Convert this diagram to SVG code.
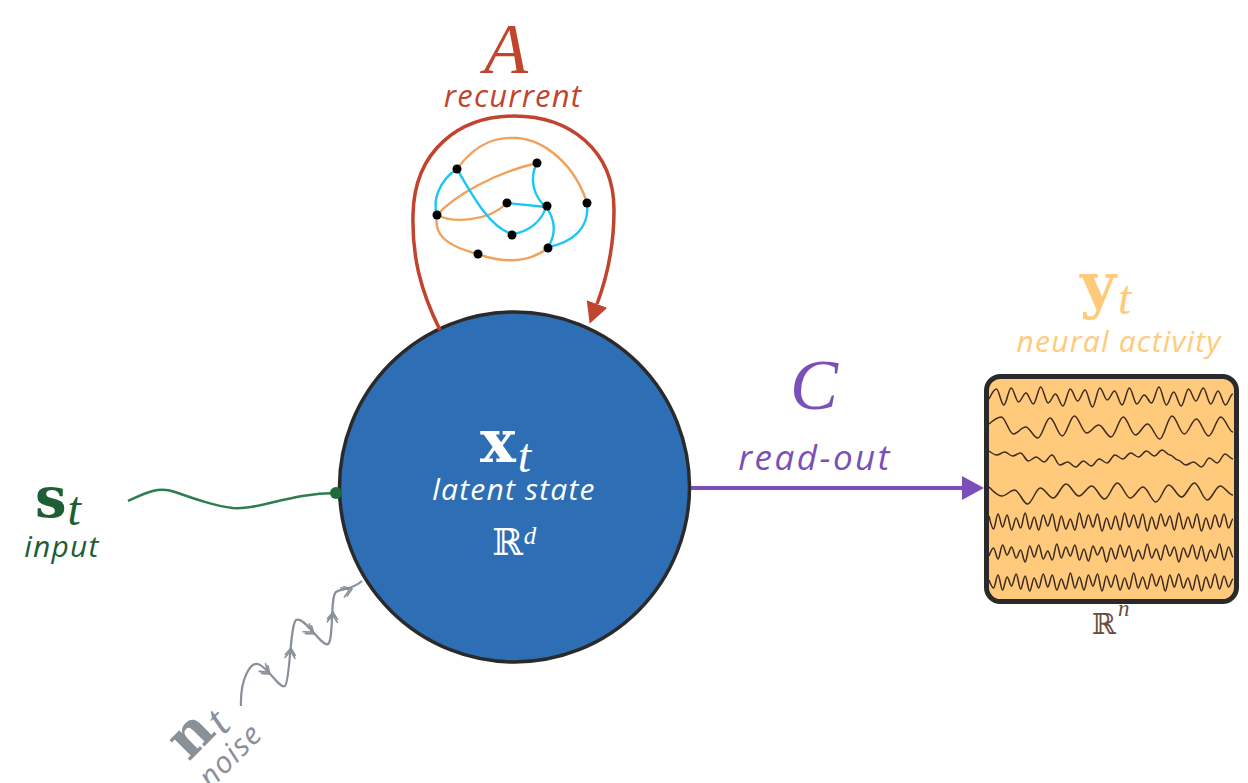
<svg xmlns="http://www.w3.org/2000/svg" width="1248" height="783" viewBox="0 0 1248 783">
  <style>
    .sans { font-family: "Open Sans", Lato, sans-serif; font-style: italic; letter-spacing: 1.2px; }
    .math { font-family: "Liberation Serif", "DejaVu Serif", serif; }
    .vec { font-family: "DejaVu Serif", "Liberation Serif", serif; font-weight: bold; }
    .bb { font-family: "DejaVu Serif", "Liberation Serif", serif; }
    .it { font-style: italic; }
    .trace { fill: none; stroke: #3d2a1e; stroke-width: 1.5; stroke-linejoin: round; vector-effect: non-scaling-stroke; }
    .net-o { fill: none; stroke: #f0a25c; stroke-width: 2.4; }
    .net-b { fill: none; stroke: #1cc6f4; stroke-width: 2.4; }
    .chev { fill: none; stroke: #8a9099; stroke-width: 1.6; stroke-linecap: round; }
  </style>
  <defs>
    <marker id="head-red" markerUnits="userSpaceOnUse" markerWidth="24" markerHeight="26" refX="0" refY="11" orient="auto" viewBox="0 0 24 22">
      <path d="M0 0 L21 11 L0 22 Z" fill="#c1442f"/>
    </marker>
    <marker id="head-purple" markerUnits="userSpaceOnUse" markerWidth="24" markerHeight="26" refX="0" refY="12" orient="auto" viewBox="0 0 24 24">
      <path d="M0 0 L22 12 L0 24 Z" fill="#7a4fb8"/>
    </marker>
  </defs>

  <!-- latent state node -->
  <g id="latent">
    <circle cx="514.5" cy="487" r="175" fill="#2e6eb5" stroke="#2a2a2a" stroke-width="3.5"/>
    <text x="480" y="462" fill="#ffffff"><tspan class="vec" font-size="60">x</tspan><tspan class="math it" font-size="48" dx="2" dy="10">t</tspan></text>
    <text x="514" y="500" class="sans" font-size="30" fill="#ffffff" text-anchor="middle">latent state</text>
    <text x="492" y="555" fill="#ffffff"><tspan class="bb" font-size="37">ℝ</tspan><tspan class="math it" font-size="25" dx="1" dy="-11">d</tspan></text>
  </g>

  <!-- connectors -->
  <g id="connectors">
    <path id="loop" d="M440 330 C420 290 412 255 413 215 C414 150 460 116 514 116 C570 116 614 150 614 210 C614 250 606 280 597 304" fill="none" stroke="#c1442f" stroke-width="3.5" marker-end="url(#head-red)"/>
    <path id="readout" d="M691 488 L962 488" fill="none" stroke="#7a4fb8" stroke-width="4" marker-end="url(#head-purple)"/>
    <path id="input" d="M128 501 C145 493 158 486 175 492 C195 499 215 506 233 508 C260 510 290 493 336 493" fill="none" stroke="#2e7d4f" stroke-width="2.5"/>
    <circle cx="336" cy="493" r="6" fill="#1e6b3a"/>
    <path id="noise" d="M241 706 C240 680 250 662 258 664 C268 667 280 690 285 686 C290 682 290 625 296 620 C304 615 322 648 328 644 C334 640 330 596 336 592 C342 588 352 590 362 581" fill="none" stroke="#8a9099" stroke-width="2.2"/>
    <g class="chev">
      <path transform="translate(270,674) rotate(40)" d="M-7 -5 L0 0 L-7 5 M-10 -5 L-3 0 L-10 5"/>
      <path transform="translate(291,648) rotate(-84)" d="M-7 -5 L0 0 L-7 5 M-10 -5 L-3 0 L-10 5"/>
      <path transform="translate(314,634) rotate(38)" d="M-7 -5 L0 0 L-7 5 M-10 -5 L-3 0 L-10 5"/>
      <path transform="translate(333,612) rotate(-86)" d="M-7 -5 L0 0 L-7 5 M-10 -5 L-3 0 L-10 5"/>
      <path transform="translate(352,589) rotate(-20)" d="M-7 -5 L0 0 L-7 5 M-10 -5 L-3 0 L-10 5"/>
    </g>
  </g>

  <!-- recurrent weights: small network inside the loop -->
  <g id="recurrent">
    <text x="506" y="73" class="math it" font-size="72" fill="#c1442f" text-anchor="middle">A</text>
    <text x="513" y="107" class="sans" font-size="31" fill="#c1442f" text-anchor="middle">recurrent</text>
    <path class="net-o" d="M457 169 C478 140 500 137 517 138 C545 140 575 165 587 203"/>
    <path class="net-o" d="M437 215 C434 232 442 245 478 254 C505 264 530 262 548 248"/>
    <path class="net-o" d="M437 215 C455 195 495 173 537 163"/>
    <path class="net-o" d="M437 215 C452 223 488 222 507 203"/>
    <path class="net-b" d="M457 169 C440 180 432 200 437 215"/>
    <path class="net-b" d="M457 169 C472 195 490 228 512 234"/>
    <path class="net-b" d="M512 234 C530 232 542 220 546 207"/>
    <path class="net-b" d="M537 163 C528 180 535 198 546 207"/>
    <path class="net-b" d="M507 203 L546 207"/>
    <path class="net-b" d="M546 207 C556 220 556 235 548 247"/>
    <path class="net-b" d="M587 203 C590 230 570 243 548 247"/>
    <g fill="#000000">
      <circle cx="457" cy="169" r="4.5"/>
      <circle cx="537" cy="163" r="4.5"/>
      <circle cx="507" cy="203" r="4.5"/>
      <circle cx="547" cy="206" r="4.5"/>
      <circle cx="587" cy="203" r="4.5"/>
      <circle cx="437" cy="215" r="4.5"/>
      <circle cx="512" cy="235" r="4.5"/>
      <circle cx="548" cy="248" r="4.5"/>
      <circle cx="478" cy="254" r="4.5"/>
    </g>
  </g>

  <!-- read-out label -->
  <g id="readout-label">
    <text x="814" y="409" class="math it" font-size="72" fill="#7a4fb8" text-anchor="middle">C</text>
    <text x="815" y="470" class="sans" font-size="35" fill="#7a4fb8" text-anchor="middle" style="letter-spacing:2.5px">read-out</text>
  </g>

  <!-- input -->
  <g id="input-label">
    <text x="35" y="517" fill="#1d5e34"><tspan class="vec" font-size="56">s</tspan><tspan class="math it" font-size="48" dx="1" dy="8">t</tspan></text>
    <text x="62" y="557" class="sans" font-size="30" fill="#1d5e34" text-anchor="middle">input</text>
  </g>

  <!-- noise -->
  <g id="noise-label" transform="translate(200,745) rotate(-45)" fill="#8a9099">
    <text x="-20" y="4"><tspan class="vec" font-size="56">n</tspan><tspan class="math it" font-size="46" dx="2" dy="6">t</tspan></text>
    <text x="14" y="39" class="sans" font-size="30" text-anchor="middle">noise</text>
  </g>

  <!-- neural activity -->
  <g id="activity">
    <text x="1080" y="306" fill="#ffcb7a"><tspan class="vec" font-size="62">y</tspan><tspan class="math it" font-size="48" dx="2" dy="8">t</tspan></text>
    <text x="1119" y="352" class="sans" font-size="30" fill="#ffcb7a" text-anchor="middle">neural activity</text>
    <rect x="986.5" y="376.5" width="250" height="225" rx="14" fill="#ffca7c" stroke="#2a2a2a" stroke-width="5"/>
    <path class="trace" transform="translate(989,397) scale(7.39,1)" d="M0 2 S.65 -8 1 -8 S1.65 8 2 8 S2.65 -9 3 -9 S3.65 5 4 5 S4.65 -4 5 -4 S5.65 7 6 7 S6.65 -10 7 -10 S7.65 6 8 6 S8.65 -3 9 -3 S9.65 9 10 9 S10.65 -8 11 -8 S11.65 4 12 4 S12.65 -7 13 -7 S13.65 10 14 10 S14.65 -9 15 -9 S15.65 3 16 3 S16.65 -6 17 -6 S17.65 8 18 8 S18.65 -9 19 -9 S19.65 7 20 7 S20.65 -2 21 -2 S21.65 6 22 6 S22.65 -10 23 -10 S23.65 8 24 8 S24.65 -5 25 -5 S25.65 9 26 9 S26.65 -8 27 -8 S27.65 4 28 4 S28.65 -9 29 -9 S29.65 7 30 7 S30.65 -6 31 -6 S31.65 8 32 8 S32.65 -3 33 -3"/>
    <path class="trace" transform="translate(989,428) scale(12.2,1)" d="M0 -4 S.65 -11 1 -11 S1.65 6 2 6 S2.65 -1 3 -1 S3.65 10 4 10 S4.65 -10 5 -10 S5.65 8 6 8 S6.65 -12 7 -12 S7.65 5 8 5 S8.65 -3 9 -3 S9.65 9 10 9 S10.65 -11 11 -11 S11.65 7 12 7 S12.65 -4 13 -4 S13.65 11 14 11 S14.65 -12 15 -12 S15.65 6 16 6 S16.65 -9 17 -9 S17.65 8 18 8 S18.65 -11 19 -11 S19.65 4 20 4"/>
    <path class="trace" transform="translate(989,457) scale(7.87,1)" d="M0 -6 S.65 -2 1 -2 S1.65 -5 2 -5 S2.65 -1 3 -1 S3.65 -4 4 -4 S4.65 4 5 4 S5.65 0 6 0 S6.65 5 7 5 S7.65 -2 8 -2 S8.65 8 9 8 S9.65 5 10 5 S10.65 10 11 10 S11.65 4 12 4 S12.65 9 13 9 S13.65 2 14 2 S14.65 6 15 6 S15.65 -2 16 -2 S16.65 2 17 2 S17.65 -4 18 -4 S18.65 0 19 0 S19.65 -6 20 -6 S20.65 -1 21 -1 S21.65 -7 22 -7 S22.65 -2 23 -2 S23.65 3 24 3 S24.65 8 25 8 S25.65 5 26 5 S26.65 10 27 10 S27.65 1 28 1 S28.65 6 29 6 S29.65 -3 30 -3 S30.65 2 31 2"/>
    <path class="trace" transform="translate(989,492) scale(12.84,1)" d="M0 -5 S.65 4 1 4 S1.65 -2 2 -2 S2.65 12 3 12 S3.65 -4 4 -4 S4.65 6 5 6 S5.65 -8 6 -8 S6.65 4 7 4 S7.65 -6 8 -6 S8.65 7 9 7 S9.65 -9 10 -9 S10.65 6 11 6 S11.65 -5 12 -5 S12.65 10 13 10 S13.65 -7 14 -7 S14.65 5 15 5 S15.65 -9 16 -9 S16.65 8 17 8 S17.65 -6 18 -6 S18.65 3 19 3"/>
    <path class="trace" transform="translate(989,522) scale(4.52,1)" d="M0 -6 S.65 7 1 7 S1.65 -8 2 -8 S2.65 5 3 5 S3.65 -7 4 -7 S4.65 8 5 8 S5.65 -4 6 -4 S6.65 6 7 6 S7.65 -9 8 -9 S8.65 7 9 7 S9.65 -5 10 -5 S10.65 8 11 8 S11.65 -7 12 -7 S12.65 4 13 4 S13.65 -8 14 -8 S14.65 9 15 9 S15.65 -6 16 -6 S16.65 7 17 7 S17.65 -3 18 -3 S18.65 8 19 8 S19.65 -9 20 -9 S20.65 6 21 6 S21.65 -7 22 -7 S22.65 5 23 5 S23.65 -8 24 -8 S24.65 9 25 9 S25.65 -4 26 -4 S26.65 7 27 7 S27.65 -6 28 -6 S28.65 8 29 8 S29.65 -9 30 -9 S30.65 5 31 5 S31.65 -7 32 -7 S32.65 6 33 6 S33.65 -8 34 -8 S34.65 9 35 9 S35.65 -5 36 -5 S36.65 7 37 7 S37.65 -8 38 -8 S38.65 4 39 4 S39.65 -6 40 -6 S40.65 8 41 8 S41.65 -9 42 -9 S42.65 7 43 7 S43.65 -5 44 -5 S44.65 6 45 6 S45.65 -8 46 -8 S46.65 9 47 9 S47.65 -4 48 -4 S48.65 7 49 7 S49.65 -7 50 -7 S50.65 5 51 5 S51.65 -8 52 -8 S52.65 6 53 6 S53.65 -3 54 -3"/>
    <path class="trace" transform="translate(989,553) scale(4.52,1)" d="M0 3 S.65 -5 1 -5 S1.65 6 2 6 S2.65 -8 3 -8 S3.65 2 4 2 S4.65 -6 5 -6 S5.65 5 6 5 S6.65 -3 7 -3 S7.65 9 8 9 S8.65 -7 9 -7 S9.65 4 10 4 S10.65 -8 11 -8 S11.65 6 12 6 S12.65 -2 13 -2 S13.65 7 14 7 S14.65 -9 15 -9 S15.65 5 16 5 S16.65 -6 17 -6 S17.65 3 18 3 S18.65 -8 19 -8 S19.65 7 20 7 S20.65 -4 21 -4 S21.65 8 22 8 S22.65 -7 23 -7 S23.65 2 24 2 S24.65 -6 25 -6 S25.65 9 26 9 S26.65 -5 27 -5 S27.65 6 28 6 S28.65 -8 29 -8 S29.65 4 30 4 S30.65 -7 31 -7 S31.65 8 32 8 S32.65 -3 33 -3 S33.65 6 34 6 S34.65 -9 35 -9 S35.65 5 36 5 S36.65 -4 37 -4 S37.65 7 38 7 S38.65 -8 39 -8 S39.65 3 40 3 S40.65 -6 41 -6 S41.65 9 42 9 S42.65 -5 43 -5 S43.65 4 44 4 S44.65 -8 45 -8 S45.65 6 46 6 S46.65 -7 47 -7 S47.65 8 48 8 S48.65 -3 49 -3 S49.65 5 50 5 S50.65 -9 51 -9 S51.65 7 52 7 S52.65 -6 53 -6 S53.65 4 54 4"/>
    <path class="trace" transform="translate(989,582) scale(4.52,1)" d="M0 -2 S.65 6 1 6 S1.65 -7 2 -7 S2.65 8 3 8 S3.65 -5 4 -5 S4.65 4 5 4 S5.65 -8 6 -8 S6.65 7 7 7 S7.65 -6 8 -6 S8.65 9 9 9 S9.65 -4 10 -4 S10.65 6 11 6 S11.65 -8 12 -8 S12.65 5 13 5 S13.65 -7 14 -7 S14.65 8 15 8 S15.65 -3 16 -3 S16.65 7 17 7 S17.65 -9 18 -9 S18.65 6 19 6 S19.65 -5 20 -5 S20.65 8 21 8 S21.65 -7 22 -7 S22.65 4 23 4 S23.65 -8 24 -8 S24.65 9 25 9 S25.65 -6 26 -6 S26.65 5 27 5 S27.65 -7 28 -7 S28.65 8 29 8 S29.65 -4 30 -4 S30.65 7 31 7 S31.65 -9 32 -9 S32.65 6 33 6 S33.65 -5 34 -5 S34.65 7 35 7 S35.65 -8 36 -8 S36.65 4 37 4 S37.65 -6 38 -6 S38.65 9 39 9 S39.65 -7 40 -7 S40.65 5 41 5 S41.65 -8 42 -8 S42.65 6 43 6 S43.65 -4 44 -4 S44.65 8 45 8 S45.65 -7 46 -7 S46.65 9 47 9 S47.65 -5 48 -5 S48.65 6 49 6 S49.65 -8 50 -8 S50.65 7 51 7 S51.65 -6 52 -6 S52.65 5 53 5 S53.65 -3 54 -3"/>
    <text x="1092" y="634" fill="#6b4b3a"><tspan class="bb" font-size="29">ℝ</tspan><tspan class="math it" font-size="23" dx="2" dy="-18">n</tspan></text>
  </g>
</svg>
